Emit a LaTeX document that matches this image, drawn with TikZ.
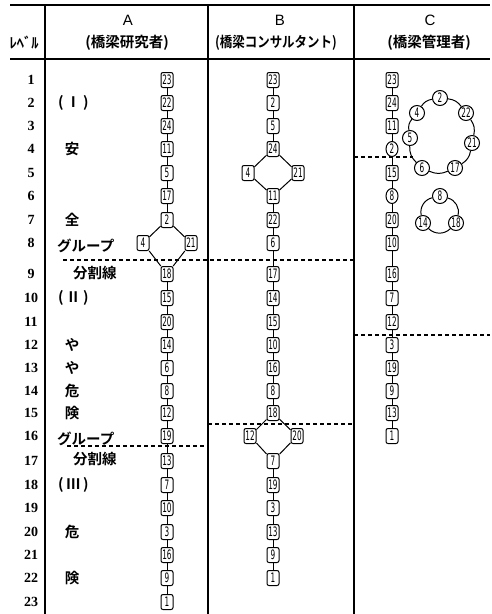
\documentclass[tikz,border=0pt]{standalone}
\usepackage{fontspec}
\usetikzlibrary{shapes.geometric}
\setmainfont{Liberation Serif}
\newfontfamily\jp{Noto Sans CJK JP}[BoldFont={Noto Sans CJK JP Bold}]
\newfontfamily\hdfont{Liberation Sans}
\newfontfamily\numfont[FakeStretch=0.56]{DejaVu Sans}

\tikzset{
  rule/.style={line width=1.3pt},
  divider/.style={line width=1.2pt, dash pattern=on 4pt off 3pt},
  edge/.style={line width=1pt},
  bx/.style={draw, line width=1pt, fill=white, rounded corners=2pt,
    minimum width=12pt, minimum height=15pt, inner sep=0pt,
    font=\numfont\fontsize{13}{13}\selectfont},
  ov/.style={draw, ellipse, line width=1pt, fill=white,
    minimum width=12pt, minimum height=15pt, inner sep=0pt,
    font=\numfont\fontsize{13}{13}\selectfont},
  rc/.style={draw, circle, line width=1pt, fill=white,
    minimum size=15pt, inner sep=0pt,
    font=\numfont\fontsize{13}{13}\selectfont},
  lvl/.style={font=\bfseries\fontsize{14}{14}\selectfont, inner sep=0pt},
  hd/.style={font=\hdfont\fontsize{15}{15}\selectfont, inner sep=0pt},
  jl/.style={font=\jp\bfseries\fontsize{14.5}{14.5}\selectfont, inner sep=0pt},
}

\begin{document}
\begin{tikzpicture}[x=1pt, y=-1pt]
\useasboundingbox (0,0) rectangle (492,614);

% level rows
\foreach \k/\y in {1/80,2/103,3/126,4/149,5/173,6/196,7/220,8/243,
                   9/274,10/298,11/322,12/345,13/368,14/391,15/413,16/436,
                   17/461,18/485,19/508,20/532,21/555,22/578,23/602}{
  \coordinate (r\k) at (0,\y);
  \node[lvl] (n\k) at (31,\y) {\k};
}
\coordinate (xA) at (167,0);
\coordinate (xB) at (273,0);
\coordinate (xC) at (392,0);

% table frame
\draw[rule] (10,5) -- (490,5);
\draw[rule] (10,59) -- (490,59);
\draw[line width=1.1pt] (45,5) -- (45,614);
\draw[line width=1.1pt] (208,5) -- (208,614);
\draw[line width=1.1pt] (354,5) -- (354,614);

% headings
\node[jl] (hlv) at (24,43) {ﾚﾍﾞﾙ};
\node[hd] (hA) at (128,20) {A};
\node[hd] (hB) at (280,20) {B};
\node[hd] (hC) at (430,20) {C};
\node[jl] (tA) at (127,43) {(橋梁研究者)};
\node[jl] (tB) at (276,43) {\scalebox{0.86}[1]{(橋梁コンサルタント)}};
\node[jl] (tC) at (429,43) {(橋梁管理者)};

% group dividing lines
\draw[divider] (63,260) -- (354,260);
\draw[divider] (67,446) -- (208,446);
\draw[divider] (208,424) -- (354,424);
\draw[divider] (354,157) -- (413,157);
\draw[divider] (354,335) -- (490,335);

% side labels of column A
\node[jl, anchor=west] (g1) at (58,103) {(\,Ⅰ\,)};
\node[jl] (s1) at (72,149) {安};
\node[jl] (s2) at (72,220) {全};
\node[jl, anchor=west] (gp1) at (57,246) {グループ};
\node[jl, anchor=west] (bk1) at (73,273) {分割線};
\node[jl, anchor=west] (g2) at (58,298) {(\,Ⅱ\,)};
\node[jl] (s3) at (72,345) {や};
\node[jl] (s4) at (72,368) {や};
\node[jl] (s5) at (72,391) {危};
\node[jl] (s6) at (72,413) {険};
\node[jl, anchor=west] (gp2) at (57,439) {グループ};
\node[jl, anchor=west] (bk2) at (73,459) {分割線};
\node[jl, anchor=west] (g3) at (58,485) {(\,Ⅲ\,)};
\node[jl] (s7) at (72,532) {危};
\node[jl] (s8) at (72,578) {険};

% column A
\foreach \n/\k in {23/1,22/2,24/3,11/4,5/5,17/6,2/7,18/9,15/10,20/11,14/12,
                   6/13,8/14,12/15,19/16,13/17,7/18,10/19,3/20,16/21,9/22,1/23}
  \node[bx] (a\n) at (xA|-r\k) {\n};
\node[bx] (a4) at (143,243) {4};
\node[bx] (a21) at (191,243) {21};
\foreach \p/\q in {23/22,22/24,24/11,11/5,5/17,17/2,2/4,2/21,4/18,21/18,
                   18/15,15/20,20/14,14/6,6/8,8/12,12/19,19/13,13/7,7/10,
                   10/3,3/16,16/9,9/1}
  \draw[edge] (a\p) -- (a\q);

% column B
\foreach \n/\k in {23/1,2/2,5/3,24/4,11/6,22/7,6/8,17/9,14/10,15/11,10/12,
                   16/13,8/14,18/15,7/17,19/18,3/19,13/20,9/21,1/22}
  \node[bx] (b\n) at (xB|-r\k) {\n};
\node[bx] (b4) at (248,173) {4};
\node[bx] (b21) at (298,173) {21};
\node[bx] (b12) at (250,436) {12};
\node[bx] (b20) at (297,436) {20};
\foreach \p/\q in {23/2,2/5,5/24,24/4,24/21,4/11,21/11,11/22,22/6,6/17,
                   17/14,14/15,15/10,10/16,16/8,8/18,18/12,18/20,12/7,20/7,
                   7/19,19/3,3/13,13/9,9/1}
  \draw[edge] (b\p) -- (b\q);

% column C
\foreach \n/\k in {23/1,24/2,11/3,15/5,20/7,10/8,16/9,7/10,12/11,3/12,
                   19/13,9/14,13/15,1/16}
  \node[bx] (c\n) at (xC|-r\k) {\n};
\node[ov] (c2) at (xC|-r4) {2};
\node[ov] (c8) at (xC|-r6) {8};
\foreach \p/\q in {23/24,24/11,11/2,2/15,15/8,8/20,20/10,10/16,16/7,7/12,
                   12/3,3/19,19/9,9/13,13/1}
  \draw[edge] (c\p) -- (c\q);

% cycle of seven
\node[rc] (cr2) at (440,98) {2};
\node[rc] (cr22) at (466,113) {22};
\node[rc] (cr21) at (472,143) {21};
\node[rc] (cr17) at (455,168) {17};
\node[rc] (cr6) at (422,168) {6};
\node[rc] (cr5) at (410,138) {5};
\node[rc] (cr4) at (417,113) {4};
\foreach \p/\q in {2/22,22/21,21/17,17/6,6/5,5/4,4/2}
  \draw[edge] (cr\p) to[bend left=24] (cr\q);

% cycle of three
\node[rc] (ct8) at (440,196) {8};
\node[rc] (ct18) at (456,223) {18};
\node[rc] (ct14) at (423,223) {14};
\foreach \p/\q in {8/18,18/14,14/8}
  \draw[edge] (ct\p) to[bend left=45] (ct\q);
\end{tikzpicture}
\end{document}
